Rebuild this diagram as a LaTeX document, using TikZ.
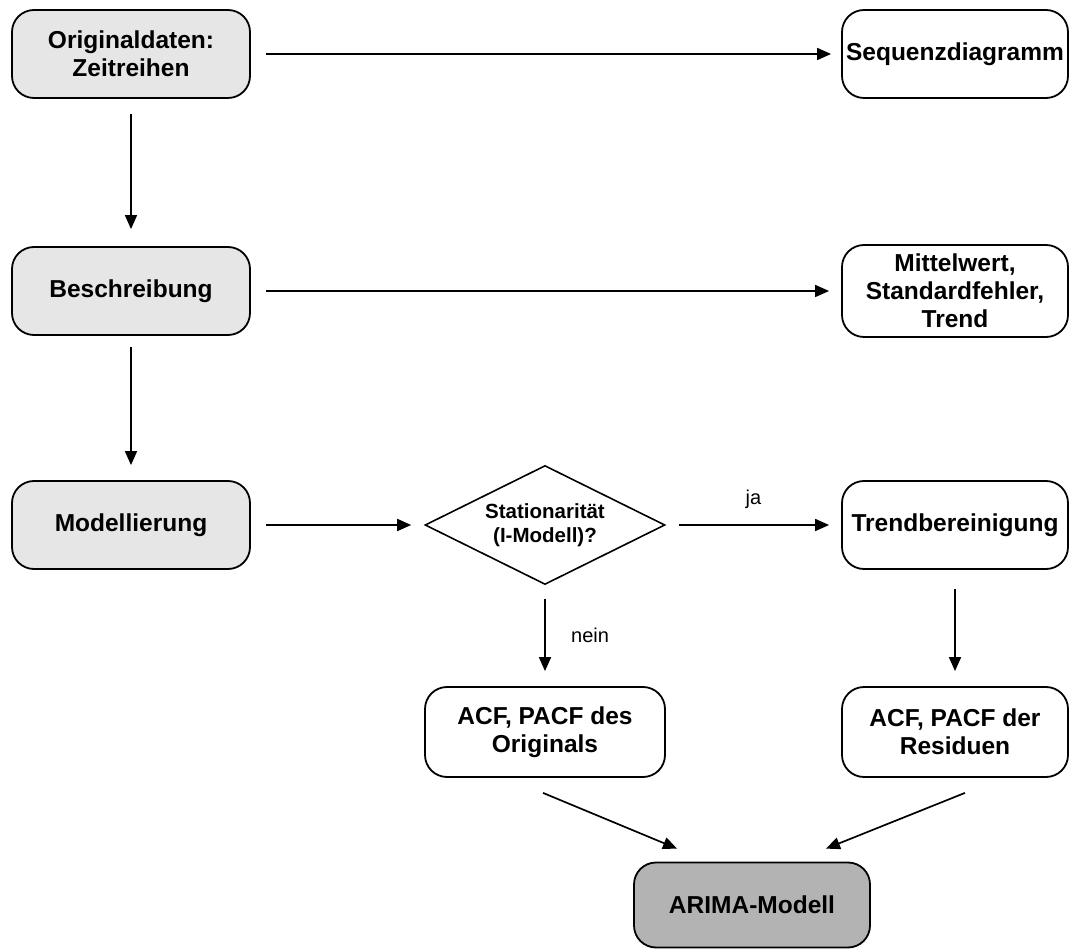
\documentclass[tikz,border=0pt]{standalone}
\usepackage{fontspec}
\setmainfont{Liberation Sans}
\usetikzlibrary{shapes.geometric,arrows.meta}
\definecolor{lightfill}{RGB}{230,230,230}
\definecolor{darkfill}{RGB}{179,179,179}
\begin{document}
\begin{tikzpicture}[x=1pt,y=-1pt,
  box/.style={draw=black,line width=1.8pt,rounded corners=22pt,align=center,
    inner sep=0pt,font=\fontsize{24.5}{28}\selectfont\bfseries},
  startbox/.style={box,fill=lightfill,minimum width=238pt,minimum height=88pt},
  sidebox/.style={box,fill=white,minimum width=226pt,minimum height=88pt},
  endbox/.style={box,fill=darkfill,minimum width=236pt,minimum height=85pt},
  decision/.style={diamond,draw=black,line width=1.6pt,aspect=2,inner sep=0pt,
    minimum width=240pt,minimum height=119pt,align=center,
    font=\fontsize{20.5}{23.5}\selectfont\bfseries},
  arr/.style={line width=1.7pt,-{Triangle[length=14pt,width=12pt]}},
  lbl/.style={font=\fontsize{20}{24}\selectfont}]
\useasboundingbox (0,0) rectangle (1069,949);

% left column
\node[startbox] (orig) at (131,54) {Originaldaten:\\Zeitreihen};
\node[startbox] (besch) at (131,291) {Beschreibung};
\node[startbox] (model) at (131,525) {Modellierung};

% right column
\node[sidebox] (seq) at (955,54) {Sequenzdiagramm};
\node[sidebox,minimum height=92pt] (mittel) at (955,291) {Mittelwert,\\Standardfehler,\\Trend};
\node[sidebox] (trend) at (955,525) {Trendbereinigung};
\node[sidebox,minimum height=90pt] (acfr) at (955,732) {ACF, PACF der\\Residuen};

% middle
\node[decision] (stat) at (545,525) {Stationarität\\(I-Modell)?};
\node[sidebox,minimum width=240pt,minimum height=90pt] (acfo) at (545,732) {ACF, PACF des\\Originals};
\node[endbox] (arima) at (752,905) {ARIMA-Modell};

% connectors
\draw[arr,shorten <=15pt,shorten >=10pt] (orig) -- (seq);
\draw[arr,shorten <=15pt,shorten >=17pt] (orig) -- (besch);
\draw[arr,shorten <=15pt,shorten >=12pt] (besch) -- (mittel);
\draw[arr,shorten <=11pt,shorten >=15pt] (besch) -- (model);
\draw[arr,shorten <=15pt,shorten >=13pt] (model) -- (stat);
\draw[arr,shorten <=13pt,shorten >=12pt] (stat) -- node[lbl,above=12pt] {ja} (trend);
\draw[arr,shorten <=14pt,shorten >=15pt] (stat) -- node[lbl,right=22pt] {nein} (acfo);
\draw[arr,shorten <=19pt,shorten >=15pt] (trend) -- (acfr);
\draw[arr] ([xshift=-2pt,yshift=-15pt]acfo.south) -- ([xshift=-75pt,yshift=13pt]arima.north);
\draw[arr] ([xshift=10pt,yshift=-15pt]acfr.south) -- ([xshift=74pt,yshift=13pt]arima.north);
\end{tikzpicture}
\end{document}
